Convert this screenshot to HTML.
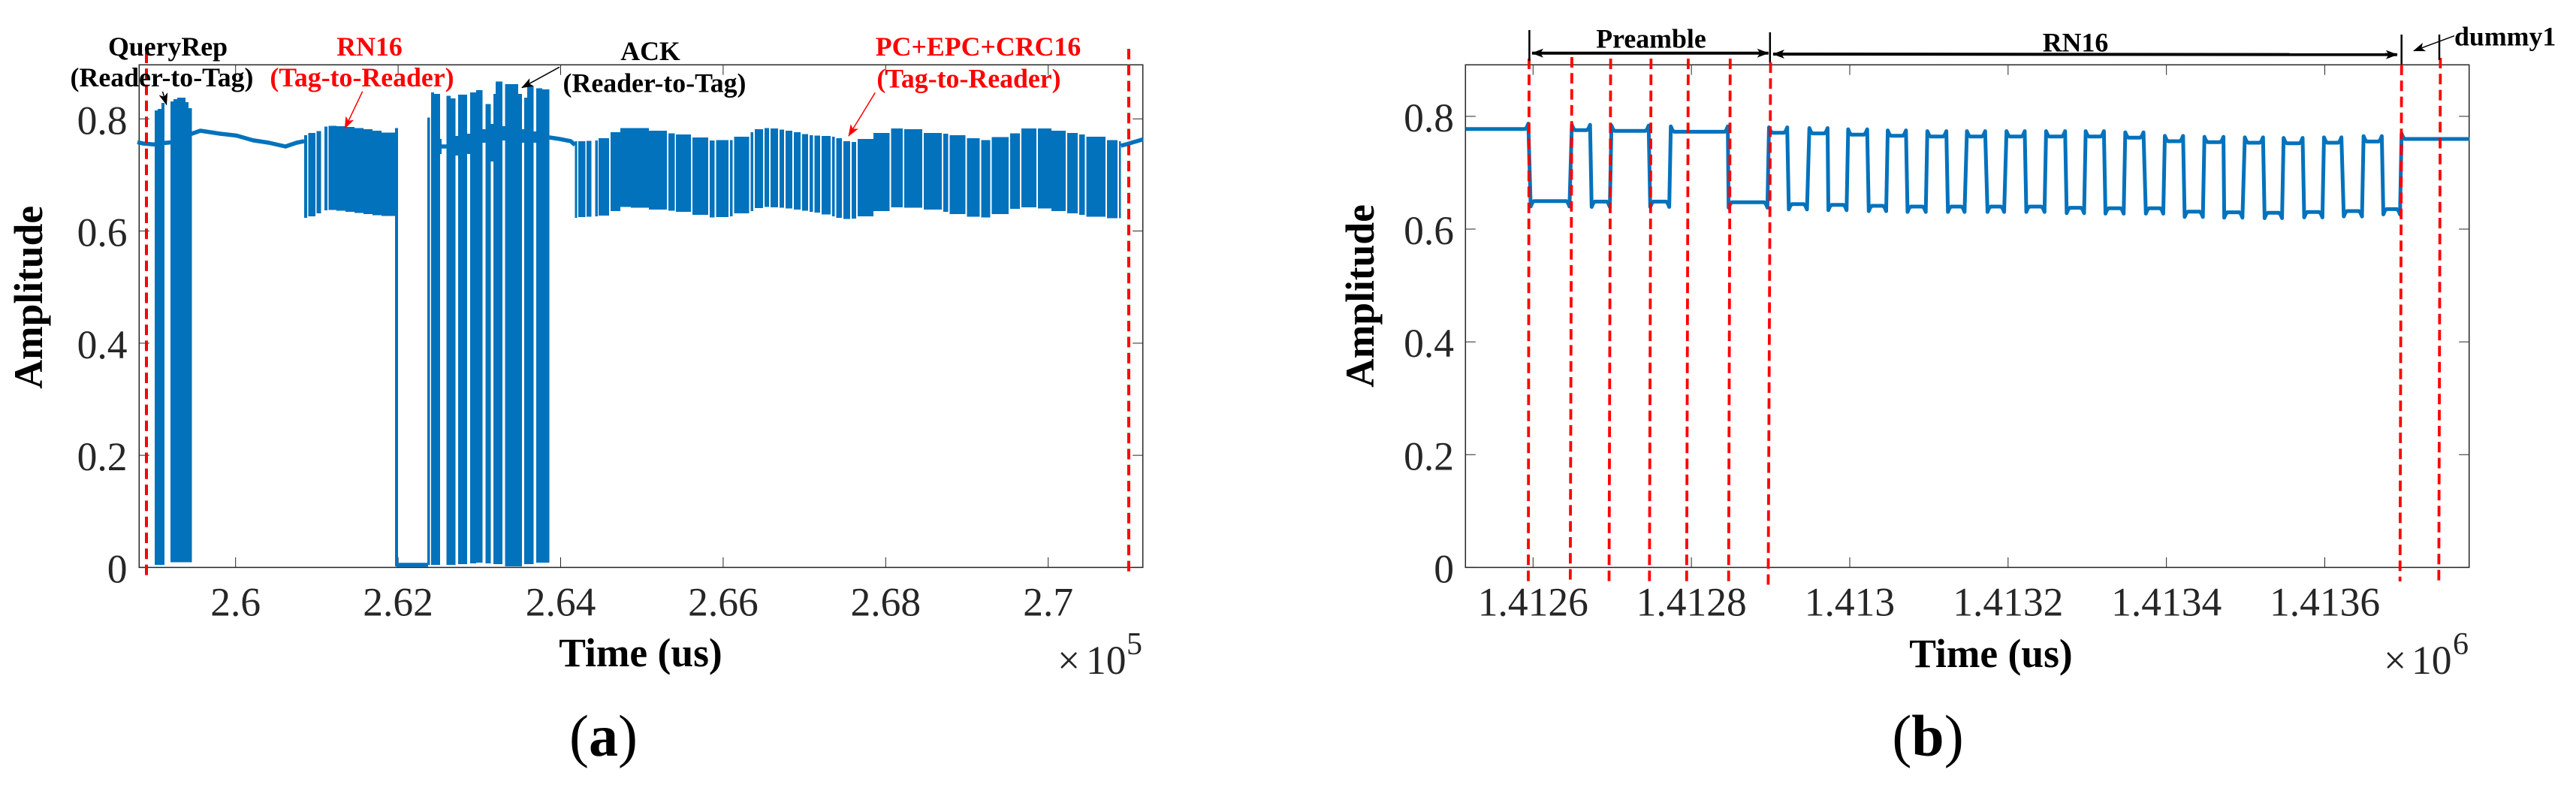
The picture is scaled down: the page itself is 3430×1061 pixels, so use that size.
<!DOCTYPE html>
<html lang="en">
<head>
<meta charset="utf-8">
<title>RFID signal amplitude traces</title>
<style>
  html, body { margin: 0; padding: 0; background: #fff; }
  svg { display: block; }
  text { font-family: "Liberation Serif", "Times New Roman", serif; }
  .tick-label { font-size: 53.5px; fill: #262626; }
  .axis-title { font-size: 53.5px; font-weight: bold; fill: #000; }
  .note { font-size: 35.8px; font-weight: bold; fill: #000; }
  .note-red { font-size: 35.8px; font-weight: bold; fill: #f00; }
  .caption { font-size: 78px; fill: #000; }
</style>
</head>
<body>
<svg id="figure" xmlns="http://www.w3.org/2000/svg" width="3430" height="1061" viewBox="0 0 3430 1061">
  <defs>
    <marker id="head-black" markerUnits="userSpaceOnUse" viewBox="0 0 16 12" refX="15" refY="6" markerWidth="16" markerHeight="12" orient="auto-start-reverse">
      <path d="M16 6 L0 0 L4 6 L0 12 Z" fill="#000"/>
    </marker>
    <marker id="head-red" markerUnits="userSpaceOnUse" viewBox="0 0 16 12" refX="15" refY="6" markerWidth="16" markerHeight="12" orient="auto">
      <path d="M16 6 L0 0 L4 6 L0 12 Z" fill="#f00"/>
    </marker>
  </defs>
  <rect x="0" y="0" width="3430" height="1061" fill="#fff"/>

  <g id="panel-a"></g>
  <g id="panel-b"></g>

  <!-- Panel (a) static text -->
  <text class="axis-title" text-anchor="middle" transform="translate(56 395.7) rotate(-90)">Amplitude</text>
  <text class="axis-title" x="853" y="887" text-anchor="middle">Time (us)</text>
  <text class="tick-label" x="1408" y="897">×<tspan x="1446">10</tspan></text>
  <text class="tick-label" x="1500" y="871" style="font-size:42px">5</text>
  <text class="caption" x="803.5" y="1006" text-anchor="middle">(<tspan font-weight="bold">a</tspan>)</text>

  <text class="note" x="223.5" y="74" text-anchor="middle">QueryRep</text>
  <text class="note" x="215.5" y="115" text-anchor="middle">(Reader-to-Tag)</text>
  <text class="note-red" x="492" y="74" text-anchor="middle">RN16</text>
  <text class="note-red" x="482" y="115" text-anchor="middle">(Tag-to-Reader)</text>
  <text class="note" x="866" y="80" text-anchor="middle">ACK</text>
  <text class="note" x="871.5" y="122.7" text-anchor="middle">(Reader-to-Tag)</text>
  <text class="note-red" x="1302.5" y="74" text-anchor="middle">PC+EPC+CRC16</text>
  <text class="note-red" x="1290" y="116.7" text-anchor="middle">(Tag-to-Reader)</text>

  <line x1="216.5" y1="122" x2="221.7" y2="139.3" stroke="#000" stroke-width="1.5" marker-end="url(#head-black)"/>
  <line x1="482.7" y1="121.7" x2="459.3" y2="170.7" stroke="#f00" stroke-width="1.5" marker-end="url(#head-red)"/>
  <line x1="745" y1="89.3" x2="695" y2="116.7" stroke="#000" stroke-width="1.5" marker-end="url(#head-black)"/>
  <line x1="1165.3" y1="123.3" x2="1130" y2="181" stroke="#f00" stroke-width="1.5" marker-end="url(#head-red)"/>

  <!-- Panel (b) static text -->
  <text class="axis-title" text-anchor="middle" transform="translate(1829 394) rotate(-90)">Amplitude</text>
  <text class="axis-title" x="2651" y="888" text-anchor="middle">Time (us)</text>
  <text class="tick-label" x="3174" y="897">×<tspan x="3211">10</tspan></text>
  <text class="tick-label" x="3266" y="871" style="font-size:42px">6</text>
  <text class="caption" x="2567" y="1006" text-anchor="middle">(<tspan font-weight="bold">b</tspan>)</text>

  <line x1="2036.4" y1="40" x2="2036.4" y2="81" stroke="#000" stroke-width="2.5"/>
  <line x1="2356.8" y1="43" x2="2356.8" y2="83" stroke="#000" stroke-width="2.5"/>
  <line x1="3197.7" y1="46" x2="3197.7" y2="86" stroke="#000" stroke-width="2.5"/>
  <line x1="3248" y1="46" x2="3248" y2="80" stroke="#000" stroke-width="2.5"/>
  <line x1="2040" y1="70.7" x2="2354.6" y2="70.7" stroke="#000" stroke-width="4" marker-start="url(#head-black)" marker-end="url(#head-black)"/>
  <line x1="2361" y1="72" x2="3191.8" y2="72.7" stroke="#000" stroke-width="4" marker-start="url(#head-black)" marker-end="url(#head-black)"/>
  <line x1="3268" y1="47.7" x2="3214" y2="67.7" stroke="#000" stroke-width="1.5" marker-end="url(#head-black)"/>
  <text class="note" x="2198.5" y="63.3" text-anchor="middle">Preamble</text>
  <text class="note" x="2763.5" y="68.3" text-anchor="middle">RN16</text>
  <text class="note" x="3268" y="60.7">dummy1</text>
</svg>

<script>
// ---------- Panel (a) data ----------
const aXTicks = [2.6, 2.62, 2.64, 2.66, 2.68, 2.7];
const aXTickLabels = ['2.6', '2.62', '2.64', '2.66', '2.68', '2.7'];
const aYTicks = [0, 0.2, 0.4, 0.6, 0.8];
const aYTickLabels = ['0', '0.2', '0.4', '0.6', '0.8'];

// Continuous-wave level between bursts; null breaks the line.
const aCarrierTime = [2.58792, 2.58857, 2.58995, 2.59088, 2.59199, 2.59462, 2.59566, 2.59809, 2.60012, 2.60213, 2.60409, 2.60613, 2.60751, 2.60844, null,
  2.61981, 2.62369, null,
  2.62517, 2.62597, 2.62708, 2.62738, 2.62849, 2.62886, 2.63041, 2.63078, 2.63139, 2.63173, 2.63284, 2.63314, 2.63524, 2.63554, 2.63669, 2.637, 2.63863, 2.63986, 2.64125, 2.64177, null,
  2.70896, 2.70964, 2.71167];
const aCarrierAmp = [0.7585, 0.7562, 0.7544, 0.7566, 0.7580, 0.7736, 0.7789, 0.7736, 0.7702, 0.7619, 0.7575, 0.7508, 0.7575, 0.7602, null,
  0.0046, 0.0046, null,
  0.7508, 0.7508, 0.7575, 0.7575, 0.7602, 0.7629, 0.7716, 0.7722, 0.7736, 0.7736, 0.7753, 0.7753, 0.7722, 0.7722, 0.7700, 0.7700, 0.7669, 0.7642, 0.7602, 0.7535, null,
  0.7522, 0.7548, 0.7635];

// Bursts: QueryRep, RN16, ACK, PC+EPC+CRC16
const aBurstStart = [
  2.59005, 2.59042, 2.59088, 2.59199, 2.59236, 2.59282, 2.59347, 2.59384, 2.59421,
  2.60844, 2.60896, 2.60998, 2.61093, 2.61146, 2.61241, 2.61352, 2.61463, 2.61574, 2.61685, 2.61796, 2.61962,
  2.62359, 2.62406, 2.62443, 2.62597, 2.62646, 2.62738, 2.62886, 2.6296, 2.63078, 2.63173, 2.632, 2.63314, 2.63478, 2.63554, 2.63589, 2.637, 2.63774,
  2.64177, 2.64217, 2.64319, 2.64423, 2.64467, 2.64615, 2.64735, 2.64864, 2.65086, 2.65326,
  2.65419, 2.65622, 2.65834, 2.65913, 2.66084, 2.66135, 2.66338, 2.66389, 2.66509, 2.66583,
  2.66694, 2.66768, 2.6687, 2.66971, 2.67064, 2.67124, 2.67212, 2.67341, 2.67392, 2.6748,
  2.67581, 2.67655, 2.67849, 2.68066, 2.68228, 2.68468, 2.68709, 2.68787, 2.69, 2.69177,
  2.69304, 2.69531, 2.6967, 2.69873, 2.7004, 2.70232, 2.70382, 2.70469, 2.70724, 2.70872];
const aBurstEnd = [
  2.59042, 2.59088, 2.59125, 2.59236, 2.59282, 2.59347, 2.59384, 2.59421, 2.59462,
  2.60881, 2.60982, 2.6105, 2.61128, 2.61241, 2.61352, 2.61463, 2.61574, 2.61685, 2.61796, 2.61962, 2.61999,
  2.62394, 2.62443, 2.62517, 2.62646, 2.62708, 2.62849, 2.6296, 2.63041, 2.63139, 2.632, 2.63284, 2.63478, 2.63524, 2.63589, 2.63669, 2.63774, 2.63863,
  2.64205, 2.64303, 2.64381, 2.64457, 2.64596, 2.64735, 2.64864, 2.65086, 2.65308, 2.65405,
  2.65603, 2.65816, 2.65895, 2.66066, 2.66116, 2.6632, 2.6637, 2.66491, 2.66565, 2.66676,
  2.66749, 2.66851, 2.66953, 2.67045, 2.67105, 2.67193, 2.67322, 2.67373, 2.67461, 2.67563,
  2.67637, 2.67849, 2.68048, 2.6821, 2.6845, 2.6869, 2.68769, 2.68982, 2.69159, 2.69286,
  2.69513, 2.69651, 2.69855, 2.7004, 2.70213, 2.70363, 2.70451, 2.70705, 2.70853, 2.70896];
const aBurstTop = [
  0.8151, 0.8178, 0.8285, 0.8312, 0.8352, 0.8379, 0.8379, 0.8298, 0.8191,
  0.7709, 0.7749, 0.7783, 0.7863, 0.7876, 0.7870, 0.7856, 0.7836, 0.7816, 0.7789, 0.7756, 0.7836,
  0.8021, 0.8473, 0.8446, 0.8412, 0.8365, 0.8433, 0.8473, 0.8513, 0.8265, 0.8446, 0.8667, 0.8620, 0.8446, 0.8379, 0.8580, 0.8546, 0.8526,
  0.7602, 0.7602, 0.7609, 0.7615, 0.7655, 0.7762, 0.7836, 0.7836, 0.7789, 0.7742,
  0.7722, 0.7669, 0.7615, 0.7619, 0.7619, 0.7682, 0.7762, 0.7816, 0.7836, 0.7829,
  0.7809, 0.7789, 0.7762, 0.7729, 0.7709, 0.7702, 0.7696, 0.7682, 0.7655, 0.7602,
  0.7588, 0.7642, 0.7749, 0.7829, 0.7816, 0.7749, 0.7736, 0.7709, 0.7655, 0.7622,
  0.7675, 0.7742, 0.7829, 0.7829, 0.7789, 0.7749, 0.7722, 0.7682, 0.7622, 0.7602];
const aBurstBottom = [
  0.0046, 0.0046, 0.0046, 0.0092, 0.0092, 0.0092, 0.0092, 0.0092, 0.0092,
  0.6235, 0.6262, 0.6316, 0.6369, 0.6376, 0.6363, 0.6342, 0.6322, 0.6302, 0.6282, 0.6268, 0.0019,
  0.0046, 0.0046, 0.0046, 0.0046, 0.0046, 0.0060, 0.0072, 0.0086, 0.0072, 0.0060, 0.0060, 0.0019, 0.0019, 0.0059, 0.0059, 0.0086, 0.0086,
  0.6235, 0.6249, 0.6255, 0.6262, 0.6275, 0.6356, 0.6430, 0.6416, 0.6383, 0.6363,
  0.6342, 0.6289, 0.6242, 0.6249, 0.6262, 0.6316, 0.6356, 0.6409, 0.6430, 0.6423,
  0.6416, 0.6403, 0.6383, 0.6363, 0.6342, 0.6329, 0.6296, 0.6262, 0.6235, 0.6215,
  0.6222, 0.6262, 0.6356, 0.6423, 0.6416, 0.6383, 0.6342, 0.6302, 0.6255, 0.6242,
  0.6302, 0.6396, 0.6423, 0.6403, 0.6356, 0.6316, 0.6289, 0.6255, 0.6229, 0.6229];

// Ring-down bands visible in the short gaps of the ACK frame
const aRingStart = [2.62517, 2.62708, 2.62849, 2.63041, 2.63139, 2.63284, 2.63524, 2.63669];
const aRingEnd = [2.62535, 2.62738, 2.62886, 2.63078, 2.63173, 2.63314, 2.63554, 2.637];
const aRingTop = [0.7642, 0.7696, 0.7736, 0.7816, 0.7910, 0.7870, 0.7816, 0.7776];
const aRingBottom = [0.7374, 0.7347, 0.7374, 0.7575, 0.7240, 0.7615, 0.7575, 0.7575];

const aMarkerTimes = [2.58903, 2.70991];

// ---------- Panel (b) data ----------
const bXTicks = [1.4126, 1.4128, 1.413, 1.4132, 1.4134, 1.4136];
const bXTickLabels = ['1.4126', '1.4128', '1.413', '1.4132', '1.4134', '1.4136'];
const bYTicks = [0, 0.2, 0.4, 0.6, 0.8];
const bYTickLabels = ['0', '0.2', '0.4', '0.6', '0.8'];

// Each plateau of the decoded square wave
const bPlateauStart = [1.412515, 1.412597, 1.412649, 1.412674, 1.412699, 1.412748, 1.412774, 1.412847, 1.412898, 1.412923,
  1.412949, 1.412973, 1.412998, 1.413024, 1.413048, 1.413073, 1.413098, 1.413124, 1.413148, 1.413174,
  1.413198, 1.413223, 1.413248, 1.413274, 1.413298, 1.413323, 1.413348, 1.413374, 1.413398, 1.413423,
  1.413448, 1.413473, 1.413499, 1.413524, 1.413548, 1.413574, 1.413599, 1.413624, 1.413649, 1.413674, 1.413697];
const bPlateauEnd = [1.412594, 1.412646, 1.412672, 1.412697, 1.412746, 1.412772, 1.412846, 1.412896, 1.412921, 1.412946,
  1.412972, 1.412996, 1.413022, 1.413046, 1.413071, 1.413096, 1.413122, 1.413145, 1.413171, 1.413195,
  1.413221, 1.413246, 1.413272, 1.413296, 1.413321, 1.413346, 1.413371, 1.413396, 1.413421, 1.413446,
  1.413472, 1.413496, 1.413522, 1.413546, 1.413572, 1.413597, 1.413621, 1.413647, 1.413672, 1.413695, 1.413783];
const bPlateauLevel = [0.7776, 0.6497, 0.7755, 0.6489, 0.7742, 0.6489, 0.7728, 0.6476, 0.7710, 0.6444,
  0.7697, 0.6431, 0.7675, 0.6414, 0.7656, 0.6400, 0.7643, 0.6400, 0.7643, 0.6400,
  0.7643, 0.6400, 0.7643, 0.6378, 0.7643, 0.6370, 0.7622, 0.6370, 0.7559, 0.6311,
  0.7542, 0.6298, 0.7533, 0.6290, 0.7523, 0.6303, 0.7533, 0.6320, 0.7555, 0.6356, 0.7599];
const bOvershoot = 0.0095;
const bEarWidth = 0.000004;

const bMarkerTop = [1.412595, 1.412649, 1.412698, 1.412749, 1.412796, 1.412849, 1.4129, 1.413697, 1.413746];
const bMarkerBottom = [1.412594, 1.412647, 1.412696, 1.412747, 1.412794, 1.412847, 1.412897, 1.413695, 1.413744];

// ---------- Axis functions ----------
const NS = 'http://www.w3.org/2000/svg';
const BLUE = '#0272bc';
const AXIS = '#262626';
const plotTop = 86.3;
const plotBottom = 755.4;

function aX(t) { return 313.7 + (t - 2.6) * 10820; }
function aY(v) { return plotBottom - v * 746.4; }
function bX(t) { return 2041.3 + (t - 1.4126) * 1054200; }
function bY(v) { return plotBottom - v * 750.6; }

function make(parent, tag, attrs) {
  const el = document.createElementNS(NS, tag);
  for (const k in attrs) el.setAttribute(k, attrs[k]);
  parent.appendChild(el);
  return el;
}

function blockPath(x0, x1, yT, yB) {
  return 'M' + x0.toFixed(2) + ' ' + yT.toFixed(2) + 'H' + x1.toFixed(2) + 'V' + yB.toFixed(2) + 'H' + x0.toFixed(2) + 'Z';
}

function drawAxes(group, left, right, xTicks, xLabels, yTicks, yLabels, xFn, yFn, yLabelRight) {
  const frame = make(group, 'rect', { x: left, y: plotTop, width: right - left, height: plotBottom - plotTop, fill: 'none', stroke: AXIS, 'stroke-width': 1.5 });
  
  
  xTicks.forEach(function (t, i) {
    const x = xFn(t);
    const d = 'M' + x + ' ' + plotBottom + 'V' + (plotBottom - 13.5) + 'M' + x + ' ' + plotTop + 'V' + (plotTop + 13.5);
    const tick = make(group, 'path', { d: d, stroke: AXIS, 'stroke-width': 1, fill: 'none' });
    
    
    const label = make(group, 'text', { x: x, y: 819.5, 'text-anchor': 'middle', class: 'tick-label' });
    label.textContent = xLabels[i];
    
    
  });
  yTicks.forEach(function (v, i) {
    const y = yFn(v);
    const d = 'M' + left + ' ' + y + 'H' + (left + 13.5) + 'M' + right + ' ' + y + 'H' + (right - 13.5);
    const tick = make(group, 'path', { d: d, stroke: AXIS, 'stroke-width': 1, fill: 'none' });
    
    
    const label = make(group, 'text', { x: yLabelRight, y: y + 20, 'text-anchor': 'end', class: 'tick-label' });
    label.textContent = yLabels[i];
    
    
  });
}

// ---------- Panel (a) ----------
const panelA = document.getElementById('panel-a');
drawAxes(panelA, 185.3, 1521.7, aXTicks, aXTickLabels, aYTicks, aYTickLabels, aX, aY, 169.5);

const burstGroup = make(panelA, 'g', { fill: BLUE, 'shape-rendering': 'crispEdges' });


aBurstStart.forEach(function (t0, i) {
  const d = blockPath(aX(t0), aX(aBurstEnd[i]), aY(aBurstTop[i]), aY(aBurstBottom[i]));
  const bar = make(burstGroup, 'path', { d: d });
  
  
});
aRingStart.forEach(function (t0, i) {
  const d = blockPath(aX(t0), aX(aRingEnd[i]), aY(aRingTop[i]), aY(aRingBottom[i]));
  const ring = make(burstGroup, 'path', { d: d });
  
  
});

let carrierD = '';
let carrierPen = false;
aCarrierTime.forEach(function (t, i) {
  if (t === null) { carrierPen = false; return; }
  carrierD += (carrierPen ? 'L' : 'M') + aX(t).toFixed(2) + ' ' + aY(aCarrierAmp[i]).toFixed(2);
  carrierPen = true;
});
const carrierLine = make(panelA, 'path', { d: carrierD, fill: 'none', stroke: BLUE, 'stroke-width': 5.5, 'stroke-linejoin': 'round' });



const aMarkerTops = [70, 65];
const aMarkerBottoms = [771, 766];
aMarkerTimes.forEach(function (t, i) {
  const x = aX(t);
  const marker = make(panelA, 'line', { x1: x, x2: x, y1: aMarkerTops[i], y2: aMarkerBottoms[i], stroke: '#f00', 'stroke-width': 4, 'stroke-dasharray': '14 7.3' });
  
  
});

// ---------- Panel (b) ----------
const panelB = document.getElementById('panel-b');
drawAxes(panelB, 1951.3, 3287.7, bXTicks, bXTickLabels, bYTicks, bYTickLabels, bX, bY, 1936);

let waveD = '';
bPlateauStart.forEach(function (t0, i) {
  const t1 = bPlateauEnd[i];
  const level = bPlateauLevel[i];
  const dir = level > 0.7 ? 1 : -1;
  const ear = bOvershoot * dir;
  const first = i === 0;
  const last = i === bPlateauStart.length - 1;
  const pts = [];
  if (first) {
    pts.push([t0, level]);
  } else {
    pts.push([t0, level + ear]);
    pts.push([t0 + bEarWidth / 2, level + ear * 0.3]);
    pts.push([t0 + bEarWidth, level]);
  }
  if (last) {
    pts.push([t1, level]);
  } else {
    pts.push([t1 - bEarWidth, level]);
    pts.push([t1 - bEarWidth / 2, level + ear * 0.3]);
    pts.push([t1, level + ear]);
  }
  pts.forEach(function (p, j) {
    waveD += ((first && j === 0) ? 'M' : 'L') + bX(p[0]).toFixed(2) + ' ' + bY(p[1]).toFixed(2);
  });
});
const waveLine = make(panelB, 'path', { d: waveD, fill: 'none', stroke: BLUE, 'stroke-width': 5, 'stroke-linejoin': 'round' });



const bMarkerY0 = [78, 76, 78, 78, 78, 78, 83, 86, 77];
const bMarkerY1 = [775.5, 774.8, 776.6, 775, 775, 775, 778.4, 774, 776];
bMarkerTop.forEach(function (t, i) {
  const marker = make(panelB, 'line', { x1: bX(t), x2: bX(bMarkerBottom[i]), y1: bMarkerY0[i], y2: bMarkerY1[i], stroke: '#f00', 'stroke-width': 3.8, 'stroke-dasharray': '14 7.3' });
  
  
});
</script>
</body>
</html>
